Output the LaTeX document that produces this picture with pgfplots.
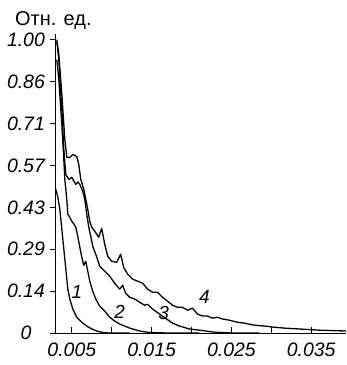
\documentclass[border=0pt]{standalone}
\usepackage{pgfplots}
\pgfplotsset{compat=1.18}
\usepackage{fontspec}
\setmainfont{Liberation Sans}
\begin{document}
\begin{tikzpicture}
\useasboundingbox (-56pt,-32pt) rectangle (291pt,334pt);
\begin{axis}[
  at={(0pt,0pt)}, anchor=south west,
  scale only axis, width=291pt, height=300pt,
  xmin=0.003, xmax=0.039375, ymin=0, ymax=1.02,
  axis lines*=left,
  axis line style={line width=0.8pt},
  xtick={0.005,0.010,0.015,0.020,0.025,0.030,0.035},
  xticklabels={0.005,{},0.015,{},0.025,{},0.035},
  ytick={0,0.142857,0.285714,0.428571,0.571429,0.714286,0.857143,1},
  yticklabels={\raisebox{-4pt}{0},0.14,0.29,0.43,0.57,0.71,0.86,1.00},
  xtick align=inside, ytick align=outside,
  major tick length=6pt,
  tick style={black, line width=0.8pt},
  /pgf/number format/assume math mode=true,
  ticklabel style={font=\fontsize{19.5}{19.5}\selectfont\itshape},
  yticklabel style={anchor=center, xshift=-24pt},
  xticklabel style={anchor=center, yshift=-17pt, inner sep=0pt},
  clip=false,
  no markers,
  every axis plot post/.append style={black, line width=1.3pt, line join=round},
]
% curve 1
\addplot coordinates {
(0.003,0.490)(0.00325,0.463)(0.0035,0.422)(0.00375,0.354)(0.004,0.286)(0.00425,0.218)
(0.0045,0.150)(0.00475,0.116)(0.005125,0.082)(0.005625,0.054)(0.00625,0.037)
(0.006875,0.024)(0.0075,0.014)(0.008125,0.007)(0.008875,0.002)(0.00975,0)(0.01225,0)
};
% curve 2
\addplot coordinates {
(0.003125,0.932)(0.003375,0.864)(0.00375,0.711)(0.004,0.592)(0.004125,0.524)
(0.004375,0.456)(0.0045,0.405)(0.00475,0.395)(0.005,0.381)(0.00525,0.372)(0.0055,0.361)
(0.00575,0.330)(0.006,0.293)(0.00625,0.259)(0.0065,0.231)(0.00675,0.245)(0.007,0.211)
(0.00725,0.177)(0.007625,0.143)(0.008,0.116)(0.0085,0.092)(0.009125,0.075)(0.00975,0.054)
(0.010375,0.041)(0.011,0.031)(0.01225,0.017)(0.0135,0.007)(0.01475,0.002)(0.01725,0)(0.021,0)
};
% curve 3
\addplot coordinates {
(0.003125,0.993)(0.003375,0.932)(0.00375,0.762)(0.004,0.626)(0.00425,0.541)
(0.004625,0.524)(0.005,0.531)(0.0055,0.507)(0.00575,0.515)(0.006,0.507)(0.006375,0.483)
(0.006625,0.456)(0.006875,0.405)(0.007125,0.361)(0.007375,0.330)(0.007625,0.296)(0.008125,0.259)
(0.0085,0.228)(0.009125,0.211)(0.00975,0.194)(0.010375,0.170)(0.011,0.150)(0.011375,0.163)
(0.01175,0.136)(0.01225,0.122)(0.012875,0.116)(0.0135,0.105)(0.014125,0.095)(0.0145,0.098)
(0.015125,0.082)(0.016,0.065)(0.016875,0.048)(0.017625,0.034)(0.0185,0.024)(0.01975,0.014)
(0.021,0.010)(0.022875,0.003)(0.025375,0)(0.0285,0)
};
% curve 4
\addplot coordinates {
(0.003125,1.000)(0.003375,0.949)(0.00375,0.813)(0.004125,0.660)(0.004375,0.599)
(0.00475,0.599)(0.005125,0.609)(0.005625,0.602)(0.005875,0.575)(0.006125,0.524)
(0.0065,0.490)(0.00675,0.456)(0.007,0.422)(0.00725,0.381)(0.0075,0.361)(0.007875,0.347)
(0.008375,0.327)(0.00875,0.357)(0.009125,0.303)(0.0095,0.262)(0.01,0.245)(0.010625,0.241)
(0.011125,0.269)(0.0115,0.224)(0.012,0.201)(0.012625,0.184)(0.01325,0.177)(0.013875,0.170)
(0.0145,0.150)(0.015125,0.139)(0.01575,0.139)(0.016375,0.122)(0.017,0.109)(0.017625,0.095)
(0.01825,0.088)(0.018875,0.088)(0.0195,0.078)(0.020125,0.085)(0.02075,0.065)(0.021375,0.058)
(0.022,0.058)(0.022625,0.051)(0.02325,0.054)(0.023875,0.048)(0.02475,0.044)(0.02575,0.037)
(0.026625,0.034)(0.027875,0.027)(0.029125,0.024)(0.030375,0.020)(0.031625,0.017)
(0.0335,0.014)(0.036,0.010)(0.039375,0.007)
};
\node[font=\fontsize{19}{19}\selectfont\itshape] at (axis cs:0.005625,0.139) {1};
\node[font=\fontsize{19}{19}\selectfont\itshape] at (axis cs:0.011,0.071) {2};
\node[font=\fontsize{19}{19}\selectfont\itshape] at (axis cs:0.0165,0.068) {3};
\node[font=\fontsize{19}{19}\selectfont\itshape] at (axis cs:0.021625,0.122) {4};
\end{axis}
\node[font=\fontsize{20}{20}\selectfont, anchor=west, inner sep=0pt] at (-41pt,313pt) {Отн. ед.};
\end{tikzpicture}
\end{document}
